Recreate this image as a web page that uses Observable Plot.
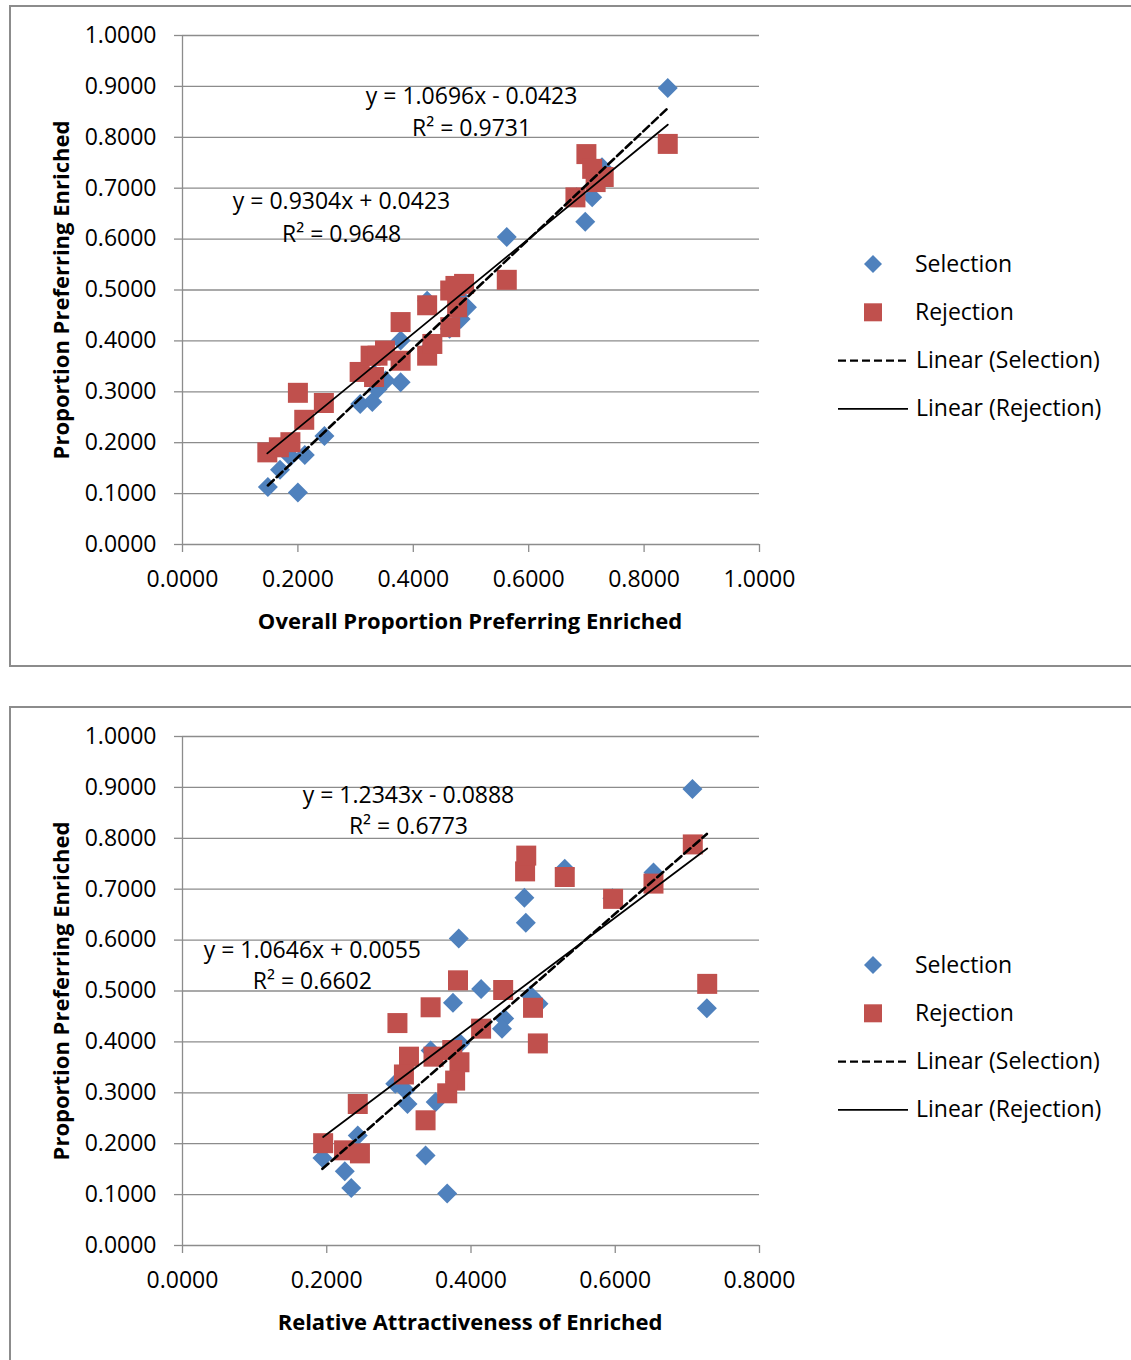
<!DOCTYPE html>
<html><head><meta charset="utf-8">
<script src="https://cdn.jsdelivr.net/npm/d3@7"></script>
<script src="https://cdn.jsdelivr.net/npm/@observablehq/plot@0.6"></script>
<style>
html,body{margin:0;padding:0;background:#fff;overflow:hidden;}
#page{position:relative;width:1131px;height:1360px;overflow:hidden;font-family:"Open Sans",sans-serif;color:#000;}
.box{position:absolute;left:9px;width:1140px;border:2px solid #8c8c8c;box-sizing:border-box;}
.chart{position:absolute;left:0;}
.ytitle,.xtitle{position:absolute;font-weight:bold;font-size:22px;white-space:nowrap;line-height:1;}
.ytitle{transform:translate(-50%,-50%) rotate(-90deg);}
.xtitle{transform:translate(-50%,-50%);}
</style></head><body><div id="page"></div>
<script>
// ---------- data ----------
const seriesNames = ["Selection", "Rejection"];
const proportionTicks = [0, 0.1, 0.2, 0.3, 0.4, 0.5, 0.6, 0.7, 0.8, 0.9, 1.0];
const overallTicks = [0, 0.2, 0.4, 0.6, 0.8, 1.0];
const attractTicks = [0, 0.2, 0.4, 0.6, 0.8];

// Chart 1: Overall Proportion Preferring Enriched
const selOverallX = [0.148,0.169,0.187,0.200,0.212,0.246,0.308,0.329,0.338,0.352,0.378,0.378,0.332,0.424,0.425,0.465,0.463,0.482,0.478,0.493,0.562,0.683,0.698,0.710,0.718,0.727,0.841];
const selOverallY = [0.113,0.147,0.173,0.102,0.176,0.213,0.276,0.280,0.305,0.322,0.319,0.401,0.335,0.479,0.383,0.504,0.424,0.443,0.488,0.466,0.604,0.682,0.634,0.682,0.729,0.741,0.897];
const rejOverallX = [0.147,0.167,0.187,0.200,0.211,0.245,0.307,0.326,0.338,0.332,0.351,0.378,0.378,0.424,0.433,0.424,0.464,0.464,0.476,0.488,0.473,0.562,0.681,0.700,0.710,0.716,0.730,0.841];
const rejOverallY = [0.181,0.191,0.201,0.298,0.245,0.278,0.339,0.371,0.371,0.329,0.381,0.437,0.361,0.371,0.394,0.470,0.427,0.499,0.466,0.512,0.508,0.520,0.682,0.767,0.738,0.712,0.722,0.787];
const overallSlopes = [1.0696, 0.9304];
const overallIntercepts = [-0.0423, 0.0423];
const overallR2 = ["0.9731", "0.9648"];

// Chart 2: Relative Attractiveness of Enriched
const selAttractX = [0.707,0.727,0.653,0.530,0.474,0.476,0.383,0.414,0.375,0.4825,0.4936,0.446,0.443,0.344,0.385,0.295,0.309,0.312,0.351,0.194,0.225,0.234,0.243,0.337,0.367,0.596,0.378];
const selAttractY = [0.897,0.466,0.733,0.740,0.683,0.634,0.603,0.504,0.477,0.491,0.475,0.446,0.426,0.383,0.397,0.318,0.305,0.278,0.282,0.172,0.146,0.113,0.216,0.177,0.102,0.682,0.322];
const rejAttractX = [0.7075,0.7275,0.653,0.530,0.475,0.4766,0.597,0.382,0.4446,0.344,0.486,0.298,0.414,0.4927,0.314,0.348,0.374,0.384,0.307,0.378,0.367,0.337,0.195,0.243,0.224,0.246];
const rejAttractY = [0.788,0.514,0.711,0.724,0.735,0.766,0.681,0.521,0.502,0.468,0.467,0.437,0.426,0.397,0.371,0.371,0.384,0.360,0.336,0.324,0.299,0.246,0.201,0.278,0.187,0.181];
const attractSlopes = [1.2343, 1.0646];
const attractIntercepts = [-0.0888, 0.0055];
const attractR2 = ["0.6773", "0.6602"];

const colors = {Selection: "#4F81BD", Rejection: "#C0504D"};
const gray = "#8c8c8c";

// ---------- symbols ----------
const diamond = {draw(ctx, size) { const r = Math.sqrt(size / Math.PI); ctx.moveTo(0, -r); ctx.lineTo(r, 0); ctx.lineTo(0, r); ctx.lineTo(-r, 0); ctx.closePath(); }};
const square = {draw(ctx, size) { const r = Math.sqrt(size / Math.PI); ctx.rect(-r, -r, 2 * r, 2 * r); }};

function eqText(slope, intercept) {
  return `y = ${slope.toFixed(4)}x ${intercept < 0 ? "-" : "+"} ${Math.abs(intercept).toFixed(4)}`;
}

function drawChart(cfg) {
  const page = document.getElementById("page");
  const box = document.createElement("div");
  box.className = "box";
  box.style.top = (cfg.top + 5) + "px";
  box.style.height = cfg.boxHeight + "px";
  page.appendChild(box);

  const sel = cfg.selX.map((x, i) => ({x, y: cfg.selY[i]}));
  const rej = cfg.rejX.map((x, i) => ({x, y: cfg.rejY[i]}));
  const trend = (pts, k) => d3.extent(pts, d => d.x).map(x => ({x, y: cfg.slopes[k] * x + cfg.intercepts[k]}));
  const labels = [];
  seriesNames.forEach((s, k) => {
    labels.push({x: cfg.labelPos[k][0], y: cfg.labelPos[k][1], text: eqText(cfg.slopes[k], cfg.intercepts[k])});
    labels.push({x: cfg.labelPos[k][0], y: cfg.labelPos[k][2], text: `R² = ${cfg.r2[k]}`});
  });

  const fmt = d3.format(".4f");
  const svg = Plot.plot({
    width: 1131, height: 667,
    marginLeft: 182, marginRight: 372, marginTop: 35, marginBottom: 123,
    style: {background: "transparent", fontFamily: "Open Sans", fontSize: "23px", color: "#000", overflow: "visible"},
    x: {domain: cfg.xDomain},
    y: {domain: [0, 1]},
    marks: [
      Plot.gridY(proportionTicks, {stroke: gray, strokeOpacity: 1, strokeWidth: 1.3}),
      Plot.ruleX([0], {stroke: gray, strokeWidth: 1.3}),
      Plot.axisY(proportionTicks, {tickFormat: fmt, tickSize: 8, tickPadding: 18, stroke: gray, strokeWidth: 1.3, color: "#000", fontSize: 23, label: null}),
      Plot.axisX(cfg.xTicks, {tickFormat: fmt, tickSize: 8, tickPadding: 18, stroke: gray, strokeWidth: 1.3, color: "#000", fontSize: 23, label: null}),
      Plot.dot(sel, {x: "x", y: "y", r: 10, symbol: diamond, fill: colors.Selection, stroke: "none"}),
      Plot.dot(rej, {x: "x", y: "y", r: 10, symbol: square, fill: colors.Rejection, stroke: "none"}),
      Plot.line(trend(sel, 0), {x: "x", y: "y", stroke: "#000", strokeWidth: 2.6, strokeDasharray: "8,4"}),
      Plot.line(trend(rej, 1), {x: "x", y: "y", stroke: "#000", strokeWidth: 1.8}),
      Plot.text(labels, {x: "x", y: "y", text: "text", fontSize: 23, fill: "#000"})
    ]
  });
  svg.classList.add("chart");
  svg.style.top = cfg.top + "px";
  svg.style.position = "absolute";
  page.appendChild(svg);

  // axis titles
  const yt = document.createElement("div");
  yt.className = "ytitle"; yt.textContent = "Proportion Preferring Enriched";
  yt.style.left = "60px"; yt.style.top = (cfg.top + 290) + "px";
  page.appendChild(yt);
  const xt = document.createElement("div");
  xt.className = "xtitle"; xt.textContent = cfg.xTitle;
  xt.style.left = "470px"; xt.style.top = (cfg.top + 620) + "px";
  page.appendChild(xt);

  // legend
  const lg = d3.select(page).append("svg")
    .attr("width", 320).attr("height", 200)
    .style("position", "absolute").style("left", "820px").style("top", (cfg.top + 230) + "px")
    .style("overflow", "visible");
  const items = [
    {name: "Selection", kind: "diamond"},
    {name: "Rejection", kind: "square"},
    {name: "Linear (Selection)", kind: "dash"},
    {name: "Linear (Rejection)", kind: "solid"}
  ];
  items.forEach((it, i) => {
    const cy = 34 + i * 48.3;
    const g = lg.append("g");
    if (it.kind === "diamond") {
      g.append("path").attr("d", "M53,"+(cy-9)+"L62,"+cy+"L53,"+(cy+9)+"L44,"+cy+"Z").attr("fill", colors.Selection);
    } else if (it.kind === "square") {
      g.append("rect").attr("x", 44).attr("y", cy - 9).attr("width", 18).attr("height", 18).attr("fill", colors.Rejection);
    } else {
      g.append("line").attr("x1", 18).attr("x2", 88).attr("y1", cy).attr("y2", cy)
        .attr("stroke", "#000").attr("stroke-width", it.kind === "dash" ? 2.4 : 1.8)
        .attr("stroke-dasharray", it.kind === "dash" ? "8,4" : null);
    }
    g.append("text").attr("x", it.kind === "diamond" || it.kind === "square" ? 95 : 96).attr("y", cy).attr("dy", "0.33em")
      .attr("font-family", "Open Sans").attr("font-size", 23).attr("fill", "#000").text(it.name);
  });
}

drawChart({
  top: 0, boxHeight: 662,
  selX: selOverallX, selY: selOverallY, rejX: rejOverallX, rejY: rejOverallY,
  xDomain: [0, 1], xTicks: overallTicks,
  slopes: overallSlopes, intercepts: overallIntercepts, r2: overallR2,
  labelPos: [[0.501, 0.880, 0.817], [0.2756, 0.674, 0.609]],
  xTitle: "Overall Proportion Preferring Enriched"
});
drawChart({
  top: 701, boxHeight: 700,
  selX: selAttractX, selY: selAttractY, rejX: rejAttractX, rejY: rejAttractY,
  xDomain: [0, 0.8], xTicks: attractTicks,
  slopes: attractSlopes, intercepts: attractIntercepts, r2: attractR2,
  labelPos: [[0.3133, 0.884, 0.823], [0.180, 0.580, 0.519]],
  xTitle: "Relative Attractiveness of Enriched"
});
</script></body></html>
